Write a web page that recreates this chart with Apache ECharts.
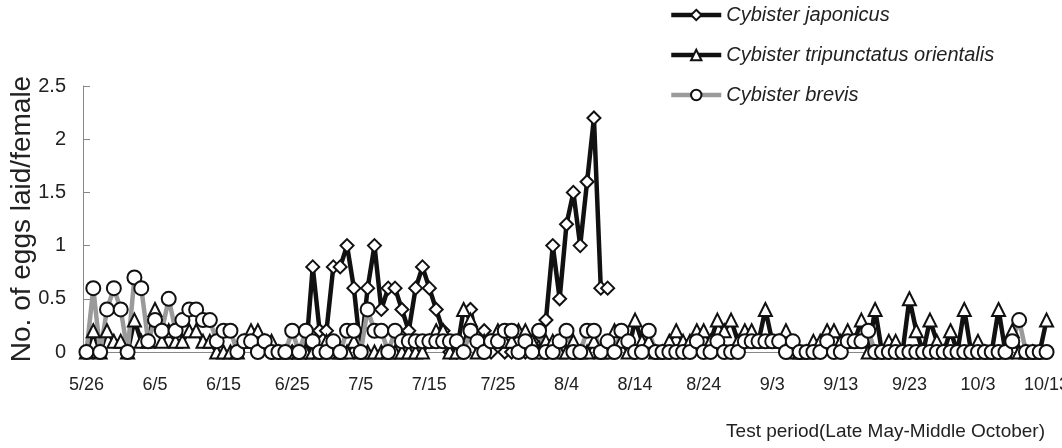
<!DOCTYPE html>
<html>
<head>
<meta charset="utf-8">
<script src="https://cdn.jsdelivr.net/npm/echarts@6/dist/echarts.min.js"></script>
<style>
  html, body { margin: 0; padding: 0; background: #fff; }
  #main { width: 1062px; height: 448px; }
</style>
</head>
<body>
<div id="main"></div>
<script>
// daily dates 5/26 .. 10/13
var startMonth = 5, startDay = 26, dayCount = 141;
var monthLen = {5: 31, 6: 30, 7: 31, 8: 31, 9: 30, 10: 31};
var dates = [];
(function () {
    var m = startMonth, d = startDay;
    for (var k = 0; k < dayCount; k++) {
        dates.push(m + '/' + d);
        d++;
        if (d > monthLen[m]) { d = 1; m++; }
    }
})();

var seriesNames = ['Cybister japonicus', 'Cybister tripunctatus orientalis', 'Cybister brevis'];

// Cybister japonicus (no record before 6/22 and after 8/10)
var japonicus = [
    null, null, null, null, null, null, null, null, null, null,
    null, null, null, null, null, null, null, null, null, null,
    null, null, null, null, null, null, null, 0, 0, 0,
    0, 0, 0, 0.8, 0.2, 0.2, 0.8, 0.8, 1.0, 0.6,
    0, 0.6, 1.0, 0.4, 0.6, 0.6, 0.4, 0.2, 0.6, 0.8,
    0.6, 0.4, 0.2, 0, 0, 0, 0.4, 0.1, 0.2, 0,
    0.1, 0, 0, 0.1, 0, 0.1, 0, 0.3, 1.0, 0.5,
    1.2, 1.5, 1.0, 1.6, 2.2, 0.6, 0.6, null, null, null,
    null, null, null, null, null, null, null, null, null, null,
    null, null, null, null, null, null, null, null, null, null,
    null, null, null, null, null, null, null, null, null, null,
    null, null, null, null, null, null, null, null, null, null,
    null, null, null, null, null, null, null, null, null, null,
    null, null, null, null, null, null, null, null, null, null,
    null
];

// Cybister tripunctatus orientalis
var tripunctatus = [
    0, 0.2, 0, 0.2, 0.1, 0.1, 0, 0.3, 0.1, 0.1,
    0.4, 0.1, 0.2, 0.1, 0.1, 0.2, 0.2, 0.1, 0.1, 0,
    0, 0, 0, 0.1, 0.2, 0.2, 0.1, 0.1, 0, 0,
    0, 0, 0, 0, 0, 0.1, 0, 0, 0, 0.1,
    0, 0, 0, 0, 0, 0, 0, 0, 0, 0,
    0.1, 0.2, 0.2, 0, 0, 0.4, 0.3, 0, 0.1, 0.1,
    0.2, 0.1, 0.1, 0.2, 0.2, 0.1, 0, 0.1, 0.1, 0,
    0, 0.1, 0, 0, 0.1, 0, 0, 0.2, 0.1, 0,
    0.3, 0.1, 0.1, 0, 0, 0.1, 0.2, 0.1, 0.1, 0.2,
    0.2, 0.1, 0.3, 0.2, 0.3, 0.1, 0.2, 0.2, 0.1, 0.4,
    0.1, 0.1, 0.2, 0, 0, 0, 0.1, 0.1, 0.2, 0.2,
    0.1, 0.2, 0.1, 0.3, 0, 0.4, 0, 0.1, 0.1, 0,
    0.5, 0.2, 0, 0.3, 0.1, 0, 0.2, 0, 0.4, 0,
    0.1, 0, 0, 0.4, 0, 0.2, 0, 0, 0, 0,
    0.3
];

// Cybister brevis
var brevis = [
    0, 0.6, 0, 0.4, 0.6, 0.4, 0, 0.7, 0.6, 0.1,
    0.3, 0.2, 0.5, 0.2, 0.3, 0.4, 0.4, 0.3, 0.3, 0.1,
    0.2, 0.2, 0, 0.1, 0.1, 0, 0.1, 0, 0, 0,
    0.2, 0, 0.2, 0.1, 0, 0, 0.1, 0, 0.2, 0.2,
    0, 0.4, 0.2, 0.2, 0, 0.2, 0.1, 0.1, 0.1, 0.1,
    0.1, 0.1, 0.1, 0.1, 0.1, 0, 0.2, 0.1, 0, 0.1,
    0.1, 0.2, 0.2, 0, 0.1, 0, 0.2, 0, 0, 0.1,
    0.2, 0, 0, 0.2, 0.2, 0, 0.1, 0, 0.2, 0.1,
    0, 0, 0.2, 0, 0, 0, 0, 0, 0, 0.1,
    0, 0, 0.1, 0, 0, 0, 0.1, 0.1, 0.1, 0.1,
    0.1, 0.1, 0, 0.1, 0, 0, 0, 0, 0.1, 0,
    0, 0.1, 0.1, 0.1, 0.2, 0, 0, 0, 0, 0,
    0, 0, 0, 0, 0, 0, 0, 0, 0, 0,
    0, 0, 0, 0, 0, 0.1, 0.3, 0, 0, 0,
    0
];

var yTicks = [0, 0.5, 1, 1.5, 2, 2.5];

var myChart = echarts.init(document.getElementById('main'));
var font = '"Liberation Sans", Arial, sans-serif';

option = {
    backgroundColor: '#ffffff',
    animation: false,
    textStyle: {fontFamily: font},
    title: {
        text: 'Test period(Late May-Middle October)',
        right: 12,
        top: 417,
        textStyle: {fontSize: 19, fontWeight: 'normal', color: '#222', fontFamily: font}
    },
    legend: {
        data: seriesNames,
        orient: 'vertical',
        left: 664,
        top: 0,
        itemGap: 20,
        itemWidth: 50,
        itemHeight: 13,
        lineStyle: {width: 4.5},
        textStyle: {fontSize: 20, fontStyle: 'italic', color: '#222', fontFamily: font}
    },
    grid: {left: 83, right: 12, top: 86, bottom: 96, outerBoundsMode: 'none'},
    xAxis: {
        type: 'category',
        boundaryGap: true,
        data: dates,
        axisLine: {lineStyle: {color: '#888', width: 1}},
        axisTick: {inside: true, length: 7, interval: 9, lineStyle: {color: '#888'}},
        axisLabel: {interval: 9, fontSize: 18, color: '#222', margin: 24}
    },
    yAxis: {
        type: 'value',
        min: yTicks[0],
        max: yTicks[yTicks.length - 1],
        interval: 0.5,
        name: 'No. of eggs laid/female',
        nameLocation: 'middle',
        nameRotate: 90,
        nameGap: 47,
        nameMoveOverlap: false,
        nameTextStyle: {fontSize: 28, color: '#222', fontFamily: font},
        splitLine: {show: false},
        axisLine: {show: true, lineStyle: {color: '#888', width: 1}},
        axisTick: {show: true, inside: true, length: 7, lineStyle: {color: '#888'}},
        axisLabel: {fontSize: 20, color: '#222', margin: 17}
    },
    series: [
        {
            name: seriesNames[0],
            type: 'line',
            data: japonicus,
            symbol: 'diamond',
            symbolSize: 13,
            showAllSymbol: true,
            lineStyle: {color: '#111', width: 4.5},
            itemStyle: {color: '#fff', borderColor: '#111', borderWidth: 2}
        },
        {
            name: seriesNames[1],
            type: 'line',
            data: tripunctatus,
            symbol: 'triangle',
            symbolSize: 13,
            showAllSymbol: true,
            lineStyle: {color: '#111', width: 4.5},
            itemStyle: {color: '#fff', borderColor: '#111', borderWidth: 2}
        },
        {
            name: seriesNames[2],
            type: 'line',
            data: brevis,
            symbol: 'circle',
            symbolSize: 14,
            showAllSymbol: true,
            lineStyle: {color: '#9a9a9a', width: 4.5},
            itemStyle: {color: '#fff', borderColor: '#111', borderWidth: 2}
        }
    ]
};

myChart.setOption(option);
</script>
</body>
</html>
